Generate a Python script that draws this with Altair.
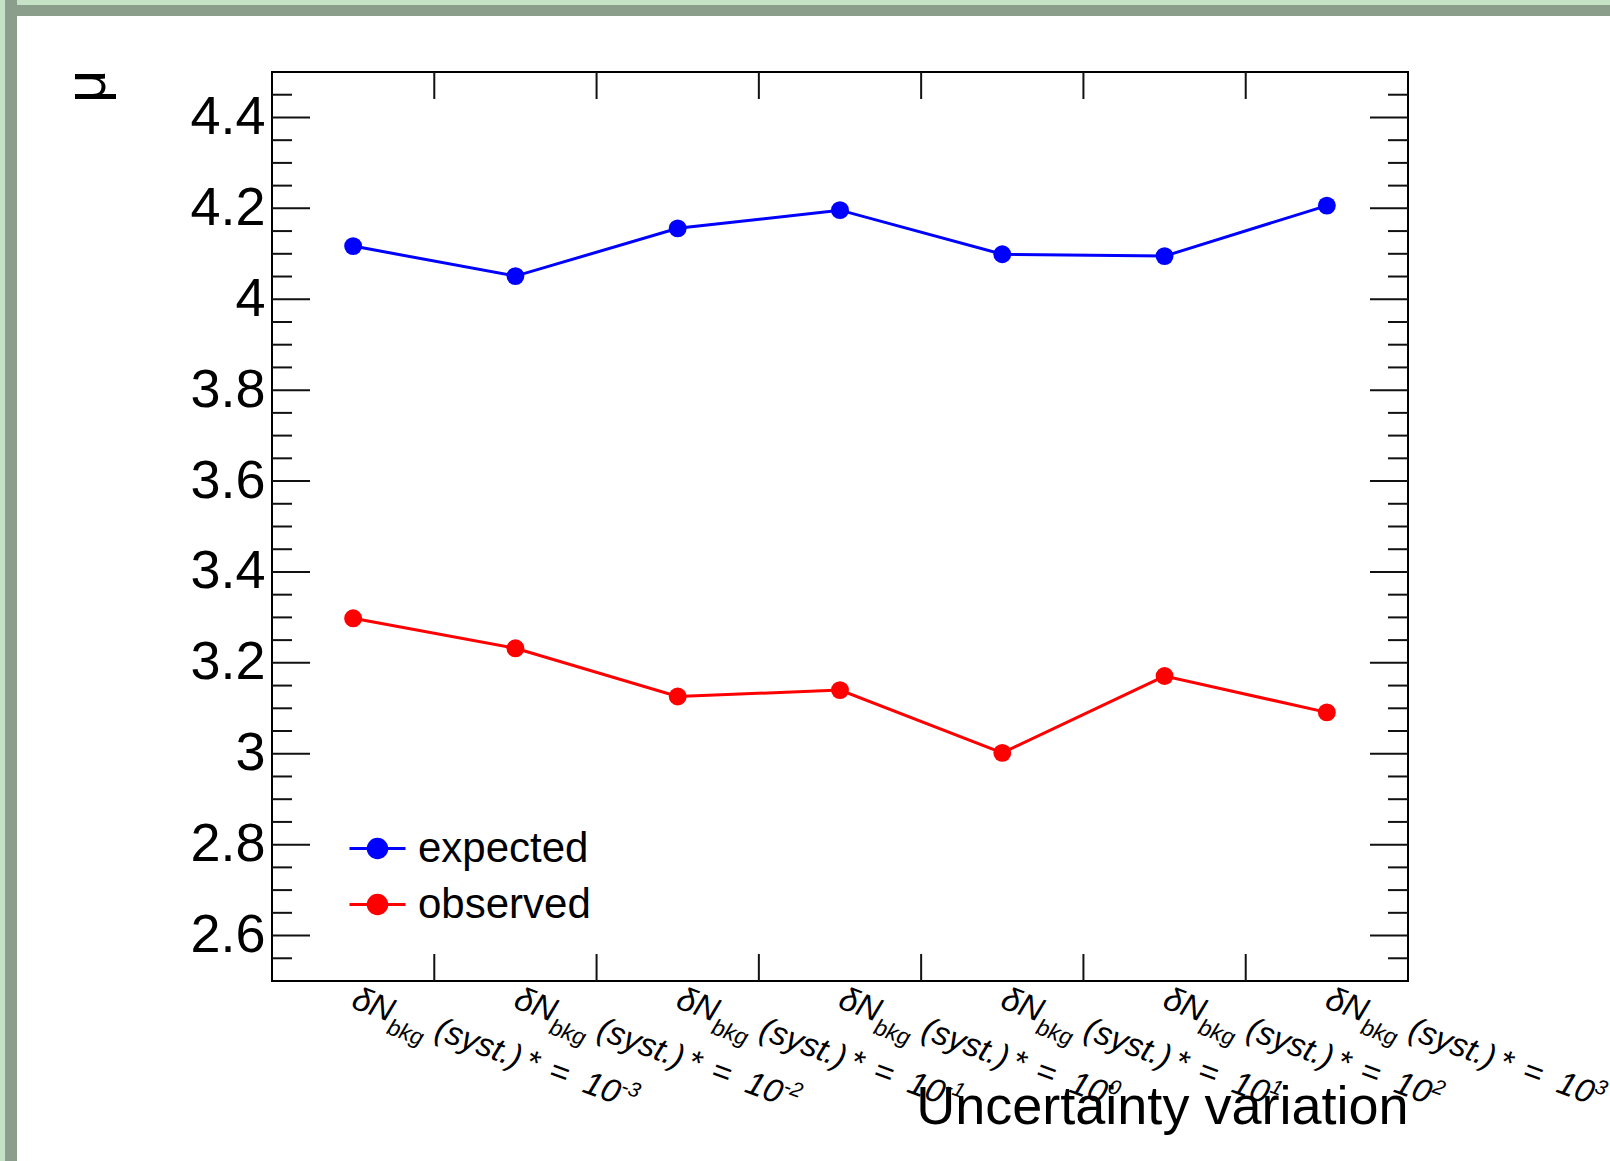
import altair as alt
import pandas as pd

# ---- data -------------------------------------------------------------
exponents = ["-3", "-2", "-1", "0", "1", "2", "3"]
expected = [4.117, 4.051, 4.156, 4.196, 4.099, 4.095, 4.206]
observed = [3.298, 3.232, 3.126, 3.140, 3.002, 3.171, 3.091]
series_names = ["expected", "observed"]
series_colors = ["#0000ff", "#ff0000"]

y_major = [2.6, 2.8, 3.0, 3.2, 3.4, 3.6, 3.8, 4.0, 4.2, 4.4]
y_minor = [round(2.5 + 0.05 * k, 2) for k in range(1, 40)]
y_minor = [v for v in y_minor if v not in y_major]
x_edges = [0.5, 1.5, 2.5, 3.5, 4.5, 5.5]

label_head = "δN"
label_sub = "bkg"
label_syst = "(syst.)"
label_star = "*"
label_eq = "="
label_base = "10"

# ---- layout -----------------------------------------------------------
W, H = 1136, 909
PAD = {"left": 272, "top": 72, "right": 202, "bottom": 180}
FONT = "Liberation Sans"
INK = "#111111"

rows = []
for i, e in enumerate(exponents):
    rows.append({"idx": i, "value": expected[i], "series": "expected", "e": e})
    rows.append({"idx": i, "value": observed[i], "series": "observed", "e": e})
df = pd.DataFrame(rows)
df_lab = pd.DataFrame({"idx": list(range(len(exponents))), "e": exponents})

xs = alt.Scale(domain=[-0.5, 6.5], nice=False, zero=False)
ys = alt.Scale(domain=[2.5, 4.5], nice=False, zero=False)

xaxis = alt.Axis(
    title="Uncertainty variation", labels=False, ticks=False, domain=False,
    grid=False, titleFont=FONT, titleFontSize=54, titleFontWeight="normal",
    titleColor="black", titleAlign="right", titleBaseline="alphabetic",
    titleX=W, titleY=142,
)
yaxis = alt.Axis(
    title="μ", values=y_major, format=".1~f", labels=True, ticks=False,
    domain=False, grid=False, labelFont=FONT, labelFontSize=54,
    labelColor="black", labelPadding=7, titleFont=FONT, titleFontSize=58,
    titleFontWeight="normal", titleColor="black", titleAngle=270,
    titleAlign="right", titleBaseline="alphabetic", titleX=-168, titleY=-3,
)

# legend symbol: horizontal line with a dot in the middle
LEG_PATH = ("M-1,0L1,0M-0.33,0A0.33,0.33,0,1,0,0.33,0"
            "A0.33,0.33,0,1,0,-0.33,0Z")
leg = alt.Legend(
    title=None, orient="none", legendX=76, legendY=747, symbolType=LEG_PATH,
    symbolSize=3136, symbolStrokeWidth=3, labelFont=FONT, labelFontSize=42,
    labelColor="black", labelOffset=11, rowPadding=5, padding=0,
    labelLimit=400,
)
stroke_scale = alt.Scale(domain=series_names, range=series_colors)
fill_scale = alt.Scale(domain=series_names, range=series_colors)

X = alt.X("idx:Q", scale=xs, axis=xaxis)
Y = alt.Y("value:Q", scale=ys, axis=yaxis)

base = alt.Chart(df)
lines = base.mark_line(strokeWidth=3).encode(
    x=X, y=Y, stroke=alt.Stroke("series:N", scale=stroke_scale, legend=leg),
    detail="series:N",
)
points = base.mark_circle(size=320, opacity=1).encode(
    x=X, y=Y, fill=alt.Fill("series:N", scale=fill_scale, legend=leg),
)

# ---- frame ticks (drawn inward) ----------------------------------------
def yticks(values, length):
    c = alt.Chart(pd.DataFrame({"v": values}))
    yy = alt.Y("v:Q", scale=ys, axis=yaxis)
    left = c.mark_rule(color=INK, strokeWidth=2).encode(
        y=yy, x=alt.value(0), x2=alt.value(length))
    right = c.mark_rule(color=INK, strokeWidth=2).encode(
        y=yy, x=alt.value(W - length), x2=alt.value(W))
    return [left, right]

xt = alt.Chart(pd.DataFrame({"v": x_edges}))
xx = alt.X("v:Q", scale=xs, axis=xaxis)
xt_bottom = xt.mark_rule(color=INK, strokeWidth=2).encode(
    x=xx, y=alt.value(H - 27), y2=alt.value(H))
xt_top = xt.mark_rule(color=INK, strokeWidth=2).encode(
    x=xx, y=alt.value(0), y2=alt.value(27))

# ---- rotated category labels: δN_bkg (syst.) * = 10^e --------------------
F, FS, FSUP = 33, 23, 21
ANG = 20
SHIFT = 6
w_head = (0.556 + 0.722) * F
w_sub = (0.556 + 0.500 + 0.556) * FS
w_space = 0.278 * F
w_syst = (0.333 + 0.5 + 0.5 + 0.5 + 0.278 + 0.278 + 0.333) * F
BASE_DY = 26

u_syst = SHIFT + w_head + w_sub + w_space
u_star = u_syst + w_syst + w_space - 4
u_eq = u_syst + w_syst + w_space + 0.389 * F + w_space
u_base = u_eq + 0.584 * F + w_space + 8
u_exp = u_base + 1.112 * F

lab = alt.Chart(df_lab)
LX = alt.X("idx:Q", scale=xs, axis=xaxis)


def piece(size, dx, dy, text=None):
    m = lab.mark_text(
        angle=ANG, align="left", baseline="alphabetic", font=FONT,
        fontStyle="italic", fontSize=size, dx=dx, dy=dy, color="black",
        **({"text": text} if text is not None else {}),
    )
    enc = dict(x=LX, y=alt.value(H))
    if text is None:
        enc["text"] = alt.Text("e:N")
    return m.encode(**enc)


label_layers = [
    piece(F, SHIFT, BASE_DY, label_head),
    piece(FS, SHIFT + w_head, BASE_DY + 12, label_sub),
    piece(F, u_syst, BASE_DY, label_syst),
    piece(F, u_star, BASE_DY, label_star),
    piece(F, u_eq, BASE_DY, label_eq),
    piece(F, u_base, BASE_DY, label_base),
    piece(FSUP, u_exp, BASE_DY - 13),
]

# ---- window edge decoration ---------------------------------------------
deco = alt.Chart(pd.DataFrame({"k": [0]}))
TW, TH = 1610, 1161
edge = [
    deco.mark_rect(color="#8b9d8b").encode(
        x=alt.value(-PAD["left"]), x2=alt.value(TW - PAD["left"]),
        y=alt.value(-PAD["top"]), y2=alt.value(-PAD["top"] + 16)),
    deco.mark_rect(color="#c6e2c6").encode(
        x=alt.value(-PAD["left"]), x2=alt.value(TW - PAD["left"]),
        y=alt.value(-PAD["top"]), y2=alt.value(-PAD["top"] + 5)),
    deco.mark_rect(color="#8b9d8b").encode(
        x=alt.value(-PAD["left"]), x2=alt.value(-PAD["left"] + 17),
        y=alt.value(-PAD["top"]), y2=alt.value(TH - PAD["top"])),
    deco.mark_rect(color="#c6e2c6").encode(
        x=alt.value(-PAD["left"]), x2=alt.value(-PAD["left"] + 5),
        y=alt.value(-PAD["top"]), y2=alt.value(TH - PAD["top"])),
]

layers = (edge + yticks(y_major, 38) + yticks(y_minor, 20)
          + [xt_bottom, xt_top, lines, points] + label_layers)

chart = alt.layer(*layers).properties(
    width=W, height=H,
    autosize=alt.AutoSizeParams(type="none"),
    padding=PAD,
    background="white",
).configure_view(stroke="#000000", strokeWidth=2)

chart.save("out.html", embed_options={"renderer": "svg", "actions": False})
